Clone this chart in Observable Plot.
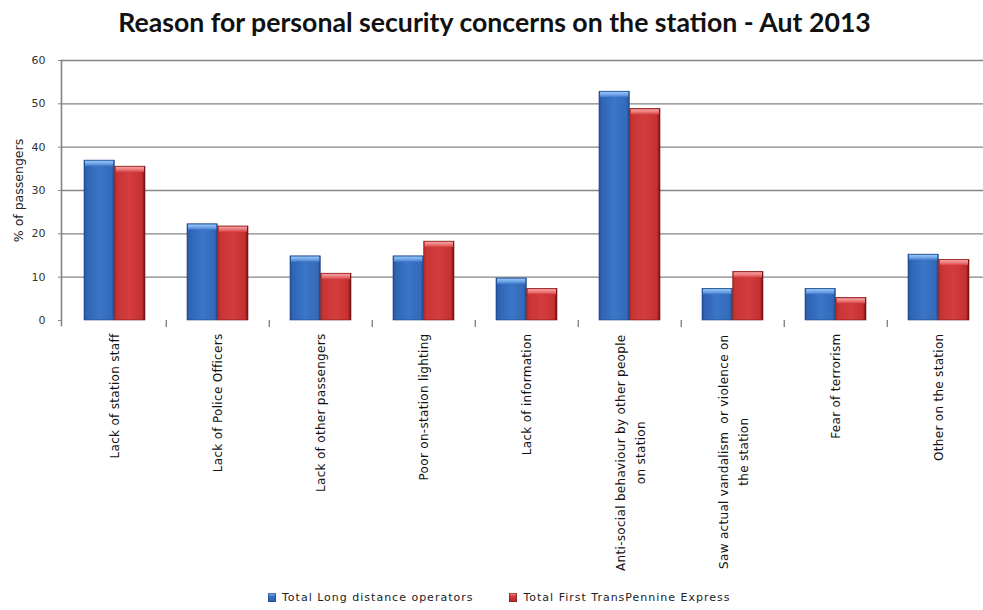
<!DOCTYPE html>
<html>
<head>
<meta charset="utf-8">
<script src="https://cdn.jsdelivr.net/npm/d3@7"></script>
<script src="https://cdn.jsdelivr.net/npm/@observablehq/plot@0.6"></script>
<style>
  html, body { margin: 0; padding: 0; background: #fff; overflow: hidden; width: 983px; height: 610px; }
  #title { height: 44px; display: flex; align-items: center; justify-content: center; font-family: Lato, sans-serif; font-weight: bold; color: #111; white-space: nowrap; padding-left: 6px; box-sizing: border-box; }
  #chart svg { display: block; overflow: hidden; }
  #legend { height: 26px; display: flex; align-items: center; justify-content: flex-start; font-family: "DejaVu Sans", sans-serif; font-size: 11px; color: #222; letter-spacing: 1.0px; }
  .sw { display: inline-block; width: 8px; height: 9px; margin-right: 6px; }
</style>
</head>
<body>
<div id="title"></div>
<div id="chart"></div>
<div id="legend"></div>
<script>
const chartTitle = "Reason for personal security concerns on the station - Aut 2013";
const categories = [
  "Lack of station staff",
  "Lack of Police Officers",
  "Lack of other passengers",
  "Poor on-station lighting",
  "Lack of information",
  "Anti-social behaviour by other people\non station",
  "Saw actual vandalism  or violence on\nthe station",
  "Fear of terrorism",
  "Other on the station"
];
const seriesNames = ["Total Long distance operators", "Total First TransPennine Express"];
const longDistance = [36.9, 22.2, 14.8, 14.8, 9.7, 52.8, 7.3, 7.3, 15.2];
const transPennine = [35.5, 21.7, 10.8, 18.2, 7.3, 48.8, 11.2, 5.2, 14.0];
const yTicks = [0, 10, 20, 30, 40, 50, 60];
const yLabel = "% of passengers";

const rows = categories.map((c, i) => ({category: c, longDistance: longDistance[i], transPennine: transPennine[i]}));

// title, fitted to the reference width
const titleEl = document.getElementById("title");
titleEl.textContent = chartTitle;
const cv = document.createElement("canvas").getContext("2d");
cv.font = "bold 26px Lato";
const tw = cv.measureText(chartTitle).width;
titleEl.style.fontSize = (26 * 755 / tw).toFixed(2) + "px";

const W = 983, H = 540, mL = 61, mR = -9, mT = 16, mB = 264;
const step = (W - mR - mL) / categories.length;
const outer = 21;
const half = step / 2;
const labelSize = 12, labelSpacing = 0.3;
cv.font = labelSize + "px 'DejaVu Sans'";
const measure = s => cv.measureText(s).width + labelSpacing * s.length;

const defs = () => {
  const d = d3.create("svg:defs");
  const mk = (id, stops, vertical) => {
    const g = d.append("linearGradient").attr("id", id)
      .attr("x1", "0").attr("x2", vertical ? "0" : "1").attr("y1", "0").attr("y2", vertical ? "1" : "0");
    stops.forEach(([o, c]) => g.append("stop").attr("offset", o).attr("stop-color", c));
  };
  mk("gBlue", [[0, "#23519a"], [0.08, "#2f63b3"], [0.5, "#3b76c8"], [0.92, "#3469b8"], [1, "#1d4585"]]);
  mk("gRed", [[0, "#b32828"], [0.08, "#c83434"], [0.5, "#d43d3d"], [0.9, "#c53030"], [1, "#6e0f0f"]]);
  mk("capBlue", [[0, "#1f4e96"], [0.2, "#8fc0f5"], [0.6, "#6ea3e6"], [1, "#3b76c8"]], true);
  mk("capRed", [[0, "#9a1c1c"], [0.2, "#f49a9a"], [0.6, "#ea7676"], [1, "#d43d3d"]], true);
  return d.node();
};

const labelMarks = [];
categories.forEach(c => {
  const lines = c.split("\n");
  if (lines.length === 1) {
    labelMarks.push(Plot.text([c], {x: d => d, y: 0, text: d => d, rotate: -90, textAnchor: "end", lineAnchor: "middle", dy: 13, fill: "#111", fontSize: labelSize}));
  } else {
    const w1 = measure(lines[0]);
    labelMarks.push(Plot.text([c], {x: d => d, y: 0, text: d => d.split("\n")[0], rotate: -90, textAnchor: "end", lineAnchor: "middle", dy: 14, dx: -9, fill: "#111", fontSize: labelSize}));
    labelMarks.push(Plot.text([c], {x: d => d, y: 0, text: d => d.split("\n")[1], rotate: -90, textAnchor: "middle", lineAnchor: "middle", dy: 14 + w1 / 2, dx: 11, fill: "#111", fontSize: labelSize}));
  }
});

const chart = Plot.plot({
  width: W, height: H,
  marginLeft: mL, marginRight: mR, marginTop: mT, marginBottom: mB,
  style: {fontFamily: "DejaVu Sans, sans-serif", fontSize: "11px", background: "#fff", overflow: "hidden"},
  x: {type: "band", domain: categories, padding: 0, axis: null},
  y: {domain: [0, 60], axis: null},
  marks: [
    defs,
    Plot.gridY(yTicks.slice(1), {stroke: "#858585", strokeOpacity: 1, strokeWidth: 1.4}),
    Plot.frame({anchor: "left", stroke: "#858585", strokeWidth: 1.6, insetBottom: -5}),
    Plot.ruleX(categories.slice(1), {x: d => d, y1: 0, y2: 0, insetBottom: -7, dx: -half, stroke: "#858585", strokeWidth: 1.4}),
    Plot.axisY({ticks: yTicks, tickSize: 3, tickPadding: 13, label: null, stroke: "#858585", fill: "#333", fontSize: 11}),
    Plot.text([yLabel], {frameAnchor: "left", dx: -43, rotate: -90, textAnchor: "middle", text: d => d, fill: "#222", fontSize: 12.5}),
    Plot.barY(rows, {x: "category", y: "longDistance", fill: "url(#gBlue)", stroke: "#1c447f", strokeWidth: 0.6, insetLeft: outer, insetRight: half}),
    Plot.barY(rows, {x: "category", y: "transPennine", fill: "url(#gRed)", stroke: "#7a1515", strokeWidth: 0.6, insetLeft: half, insetRight: outer}),
    Plot.barY(rows, {x: "category", y1: "longDistance", y2: "longDistance", fill: "url(#capBlue)", insetBottom: -6, insetLeft: outer + 1, insetRight: half + 1}),
    Plot.barY(rows, {x: "category", y1: "transPennine", y2: "transPennine", fill: "url(#capRed)", insetBottom: -6, insetLeft: half + 1, insetRight: outer + 1}),
    ...labelMarks
  ]
});
// letter spacing on the category labels
d3.select(chart).selectAll("g[aria-label='text'] text").filter(function() {
  return this.getAttribute("transform") && this.getAttribute("transform").includes("rotate(-90)") && !this.textContent.startsWith("%");
}).style("letter-spacing", labelSpacing + "px");
document.getElementById("chart").appendChild(chart);

// legend
const legend = document.getElementById("legend");
legend.style.paddingLeft = "268px";
const swatchFill = ["linear-gradient(180deg,#8fc0f5 0%,#3b76c8 35%,#2a5ca8 100%)", "linear-gradient(180deg,#f49a9a 0%,#d43d3d 35%,#b02a2a 100%)"];
const swatchBorder = ["#1c447f", "#7a1515"];
seriesNames.forEach((s, i) => {
  const item = document.createElement("span");
  item.style.display = "inline-flex";
  item.style.alignItems = "center";
  item.style.marginRight = i === 0 ? "36px" : "0";
  const sw = document.createElement("span");
  sw.className = "sw";
  sw.style.background = swatchFill[i];
  sw.style.boxShadow = "inset 0 0 0 0.6px " + swatchBorder[i];
  item.appendChild(sw);
  item.appendChild(document.createTextNode(s));
  legend.appendChild(item);
});
</script>
</body>
</html>
